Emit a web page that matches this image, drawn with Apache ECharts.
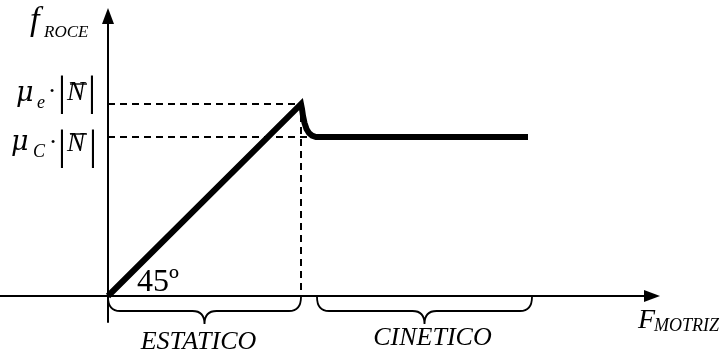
<!DOCTYPE html>
<html>
<head>
<meta charset="utf-8">
<script src="https://cdn.jsdelivr.net/npm/echarts@6/dist/echarts.min.js"></script>
<style>
html,body{margin:0;padding:0;background:#fff;}
#c{width:728px;height:355px;}
</style>
</head>
<body>
<div id="c"></div>
<script>
// ---- data (units: horizontal = driving force, vertical = friction force) ----
const xRange = [-108, 544];
const yRange = [-26, 280];
// friction force vs driving force: linear static part, peak, drop, kinetic plateau
const frictionCurve = [[0, 0], [193, 192], [194, 187], [195, 180], [196.5, 173], [198.5, 167], [201, 163], [204, 160.5], [208, 159], [420, 159]];
const staticLevel = 192;      // mu_e * |N|
const kineticLevel = 159;     // mu_C * |N|
const peakX = 193;
const kineticStartX = 206;
const braceRanges = [[0, 193], [209, 424]];
const braceLabels = ['ESTATICO', 'CINETICO'];
const angleLabel = '45º';

const FONT = '"Liberation Serif", "Times New Roman", serif';
const GREEK = '"DejaVu Serif", serif';
const chart = echarts.init(document.getElementById('c'), null, {renderer: 'canvas'});

const axisCommon = {
  type: 'value',
  axisLine: {show: true, onZero: true, symbol: ['none', 'triangle'], symbolSize: [12, 16],
             lineStyle: {color: '#000', width: 2}},
  axisTick: {show: false},
  axisLabel: {show: false},
  splitLine: {show: false}
};

chart.setOption({
  animation: false,
  backgroundColor: '#fff',
  grid: {left: 0, right: 76, top: 16, bottom: 33, containLabel: false},
  xAxis: Object.assign({}, axisCommon, {min: xRange[0], max: xRange[1]}),
  yAxis: Object.assign({}, axisCommon, {min: yRange[0], max: yRange[1]}),
  series: [
    {
      type: 'line', name: 'estatico-dash', symbol: 'none', silent: true,
      data: [[0, staticLevel], [peakX, staticLevel], [peakX, 0]],
      lineStyle: {color: '#000', width: 2, type: [7, 5]}
    },
    {
      type: 'line', name: 'cinetico-dash', symbol: 'none', silent: true,
      data: [[0, kineticLevel], [kineticStartX, kineticLevel]],
      lineStyle: {color: '#000', width: 2, type: [7, 5]}
    },
    {
      type: 'line', name: 'friccion', symbol: 'none', silent: true,
      data: frictionCurve,
      lineStyle: {color: '#000', width: 6, join: 'miter', miterLimit: 3, cap: 'butt'}
    },
    {
      type: 'custom', name: 'braces', silent: true, clip: false,
      data: braceRanges.map(r => [r[0], r[1], 0]),
      encode: {x: [0, 1], y: 2},
      renderItem: function (params, api) {
        const a = api.coord([api.value(0), api.value(2)]);
        const b = api.coord([api.value(1), api.value(2)]);
        const x0 = a[0], x1 = b[0], y0 = a[1] + 1;
        const xm = (x0 + x1) / 2;
        const y1 = y0 + 14, y2 = y0 + 27, r = 12;
        const d = 'M' + x0 + ',' + y0 +
          ' Q' + x0 + ',' + y1 + ' ' + (x0 + r) + ',' + y1 +
          ' L' + (xm - r) + ',' + y1 +
          ' Q' + xm + ',' + y1 + ' ' + xm + ',' + y2 +
          ' Q' + xm + ',' + y1 + ' ' + (xm + r) + ',' + y1 +
          ' L' + (x1 - r) + ',' + y1 +
          ' Q' + x1 + ',' + y1 + ' ' + x1 + ',' + y0;
        return {type: 'path', shape: {pathData: d}, style: {stroke: '#000', lineWidth: 1.8, fill: null}};
      }
    }
  ]
});

function txt(text, x, y, size, italic, align, family) {
  return {type: 'text', x: x, y: y, silent: true,
    style: {text: text, font: (italic ? 'italic ' : '') + size + 'px ' + (family || FONT),
            fill: '#000', textAlign: align || 'left', textVerticalAlign: 'middle'}};
}
function hline(x0, x1, y) {
  return {type: 'line', silent: true, shape: {x1: x0, y1: y, x2: x1, y2: y}, style: {stroke: '#000', lineWidth: 1.4}};
}

const braceTips = braceRanges.map(r => chart.convertToPixel({gridIndex: 0}, [(r[0] + r[1]) / 2, 0]));
const origin = chart.convertToPixel({gridIndex: 0}, [0, 0]);

const g = [
  txt('f', 30, 21, 34, true),
  txt('ROCE', 44, 33, 17, true),
  // mu_e |N|
  txt('μ', 16, 94, 27, true, 'left', GREEK),
  txt('e', 37, 103, 18, true),
  txt('·', 52, 92, 26, false, 'center'),
  txt('|', 62, 94, 42, false, 'center'),
  txt('N', 67, 93, 27, true),
  hline(70, 87, 84),
  txt('|', 92, 94, 42, false, 'center'),
  // mu_C |N|
  txt('μ', 11, 143, 27, true, 'left', GREEK),
  txt('C', 33, 152, 18, true),
  txt('·', 53, 143, 26, false, 'center'),
  txt('|', 62, 148, 42, false, 'center'),
  txt('N', 67, 144, 27, true),
  hline(70, 87, 134),
  txt('|', 93, 148, 42, false, 'center'),
  // angle
  txt(angleLabel, origin[0] + 29, origin[1] - 13, 32, false),
  // brace labels
  txt(braceLabels[0], braceTips[0][0] - 6, braceTips[0][1] + 46, 26, true, 'center'),
  txt(braceLabels[1], braceTips[1][0] + 8, braceTips[1][1] + 42, 26, true, 'center'),
  // x axis title
  txt('F', 638, 321, 28, true),
  txt('MOTRIZ', 654, 326, 18, true)
];
chart.setOption({graphic: g});
</script>
</body>
</html>
